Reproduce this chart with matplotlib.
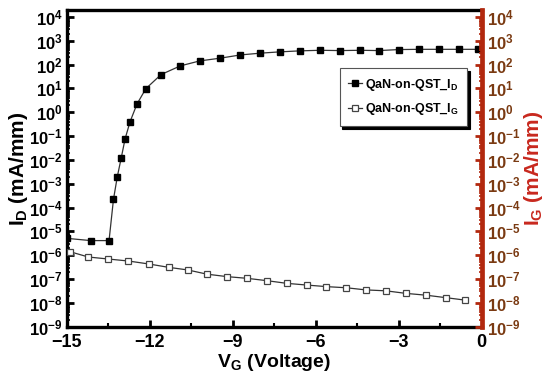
import numpy as np
import matplotlib
matplotlib.use("Agg")
import matplotlib.pyplot as plt
from matplotlib.ticker import FixedLocator, FuncFormatter, LogLocator, NullFormatter

plt.rcParams['font.family'] = ['Liberation Sans', 'DejaVu Sans']
plt.rcParams['font.weight'] = 'bold'
plt.rcParams['mathtext.fontset'] = 'custom'
plt.rcParams['mathtext.rm'] = 'Liberation Sans:bold'
plt.rcParams['mathtext.it'] = 'Liberation Sans:bold'
plt.rcParams['mathtext.bf'] = 'Liberation Sans:bold'
plt.rcParams['mathtext.default'] = 'bf'

# ---- data ----
vg_d = [-15.0, -14.13, -13.47, -13.31, -13.17, -13.03, -12.89, -12.71, -12.46,
        -12.14, -11.59, -10.89, -10.19, -9.45, -8.72, -8.0, -7.30, -6.57,
        -5.85, -5.12, -4.40, -3.71, -2.99, -2.26, -1.54, -0.83, -0.14]
id_vals = [5.1e-6, 4.1e-6, 4.1e-6, 2.2e-4, 2.0e-3, 1.2e-2, 7.6e-2, 0.40, 2.2,
           9.7, 38, 88, 142, 185, 253, 300, 340, 375,
           396, 385, 396, 385, 425, 435, 435, 435, 435]

vg_g = [-14.88, -14.22, -13.49, -12.77, -12.04, -11.32, -10.62, -9.93, -9.20,
        -8.48, -7.75, -7.05, -6.33, -5.61, -4.89, -4.19, -3.46, -2.74,
        -2.01, -1.29, -0.59]
ig_vals = [1.4e-6, 8.4e-7, 6.9e-7, 5.7e-7, 4.3e-7, 3.1e-7, 2.4e-7, 1.6e-7, 1.26e-7,
           1.07e-7, 8.5e-8, 6.6e-8, 5.6e-8, 4.8e-8, 4.3e-8, 3.5e-8, 3.2e-8, 2.5e-8,
           2.1e-8, 1.65e-8, 1.3e-8]

x_ticks = [-15, -12, -9, -6, -3, 0]
y_decades = list(range(-9, 5))

label_d = r'QaN-on-QST_I$_{D}$'
label_g = r'QaN-on-QST_I$_{G}$'

right_spine_color = '#B2280E'
right_tick_color = '#7A3A12'
right_label_color = '#C8281E'

# ---- figure ----
fig = plt.figure(figsize=(5.5, 3.83), dpi=100)
ax = fig.add_axes([0.1213, 0.147, 0.7545, 0.827])
ax2 = ax.twinx()

ylo, yhi = 1e-9, 10 ** 4.29
for a in (ax, ax2):
    a.set_yscale('log')
    a.set_ylim(ylo, yhi)
    a.set_xlim(-15, 0)
    a.yaxis.set_major_locator(FixedLocator([10.0 ** d for d in y_decades]))
    a.yaxis.set_minor_locator(LogLocator(base=10, subs=np.arange(2, 10), numticks=100))
    a.yaxis.set_minor_formatter(NullFormatter())
    a.yaxis.set_major_formatter(FuncFormatter(lambda v, p: r'$10^{%d}$' % int(round(np.log10(v)))))

l1, = ax.plot(vg_d, id_vals, color='#333333', lw=0.9, marker='s', ms=5,
              mfc='black', mec='black', label=label_d)
l2, = ax2.plot(vg_g, ig_vals, color='#333333', lw=0.9, marker='s', ms=5,
               mfc='white', mec='#444444', mew=0.9, label=label_g)

ax.set_xticks(x_ticks)
ax.set_xticks(np.arange(-13.5, 0, 3), minor=True)
ax.set_xticklabels([('\u2212%d' % abs(t)) if t < 0 else '%d' % t for t in x_ticks])

for s in ['left', 'bottom', 'top']:
    ax.spines[s].set_linewidth(2.4)
    ax.spines[s].set_color('black')
ax.spines['right'].set_visible(False)
for s in ['left', 'bottom', 'top']:
    ax2.spines[s].set_visible(False)
ax2.spines['right'].set_linewidth(3.4)
ax2.spines['right'].set_color(right_spine_color)

ax.tick_params(axis='x', which='major', direction='in', length=5, width=2, labelsize=13, pad=5, top=False)
ax.tick_params(axis='x', which='minor', direction='in', length=3, width=1.5, top=False)
ax.tick_params(axis='y', which='major', direction='in', length=5, width=2, labelsize=12, pad=3)
ax.tick_params(axis='y', which='minor', direction='in', length=2.5, width=1.2)
ax2.tick_params(axis='y', which='major', direction='in', length=5, width=2, labelsize=12, pad=4,
                color=right_spine_color, labelcolor=right_tick_color)
ax2.tick_params(axis='y', which='minor', direction='in', length=2.5, width=1.2, color=right_spine_color)

ax.set_xlabel(r'V$_{G}$ (Voltage)', fontsize=14, fontweight='bold', labelpad=1)
ax.set_ylabel(r'I$_{D}$ (mA/mm)', fontsize=15, fontweight='bold', labelpad=-1)
ax2.set_ylabel(r'I$_{G}$ (mA/mm)', fontsize=15, fontweight='bold', color=right_label_color,
               rotation=90, labelpad=1)

leg = ax2.legend(handles=[l1, l2], loc='upper right', bbox_to_anchor=(0.965, 0.817),
                 borderaxespad=0, fontsize=9, frameon=True, fancybox=False, edgecolor='#555555',
                 framealpha=1, handlelength=1.1, handletextpad=0.2, borderpad=0.7,
                 labelspacing=0.7, shadow={'color': 'black', 'alpha': 1})
leg.get_frame().set_linewidth(0.8)

fig.savefig('out.png', dpi=100)
